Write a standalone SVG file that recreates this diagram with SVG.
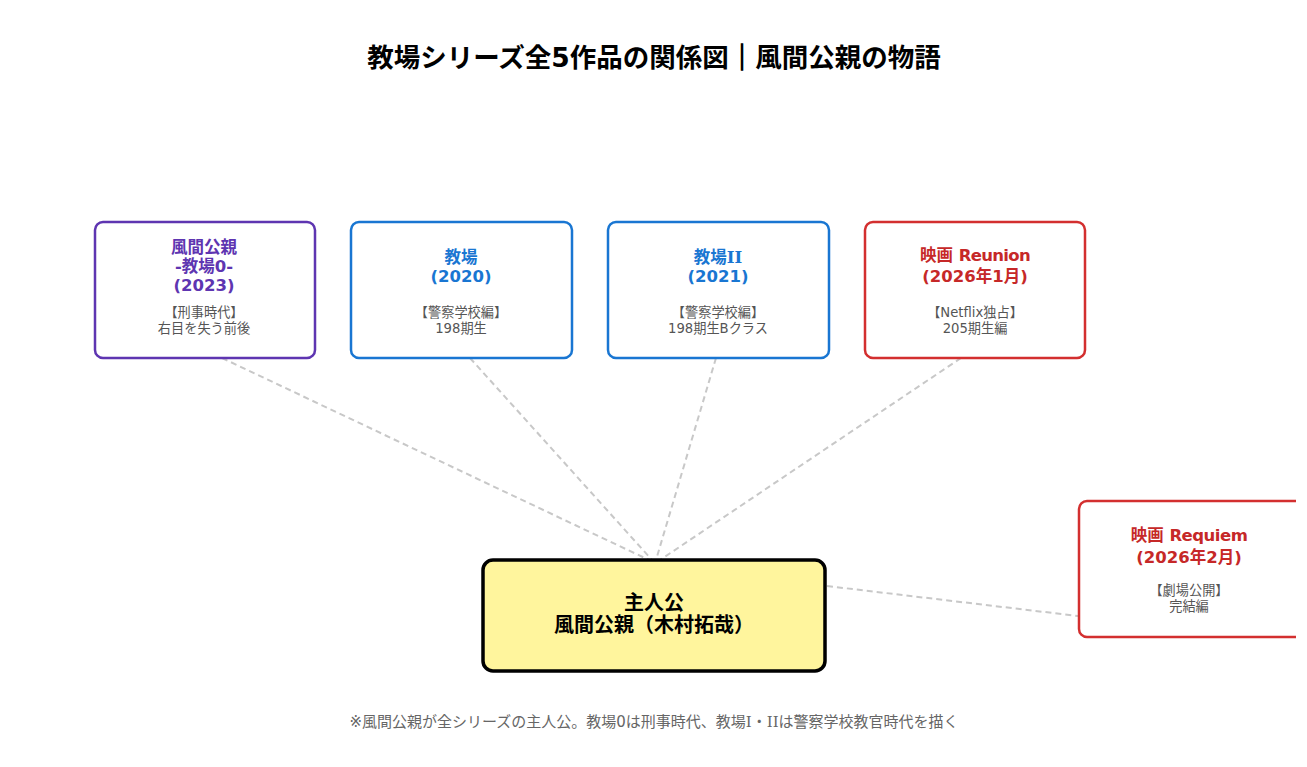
<svg xmlns="http://www.w3.org/2000/svg" width="1307" height="767" viewBox="0 0 1307 767">
<defs><clipPath id="edge"><rect x="0" y="0" width="1296" height="767"/></clipPath></defs>
<style>
text{font-family:"DejaVu Sans","Noto Sans CJK JP",sans-serif;text-anchor:middle}
.t{font-size:16.5px;font-weight:700}
.s{font-size:13.2px;fill:#555}
.box{fill:#fff;stroke-width:2.5}
.p{stroke:#5E35B1}.pt{fill:#5E35B1}
.b{stroke:#1976D2}.bt{fill:#1976D2}
.r{stroke:#D32F2F}.rt{fill:#C62828}
.c{fill:none;stroke:#C8C8C8;stroke-width:2;stroke-dasharray:6 4}
.i{font-family:"DejaVu Serif",serif}
.m{font-size:20px;font-weight:700}
</style>
<rect width="1307" height="767" fill="#fff"/>
<text id="title" x="654" y="67" font-size="26.5" font-weight="700">教場シリーズ全5作品の関係図<tspan stroke="#000" stroke-width="1.2">｜</tspan>風間公親の物語</text>
<g id="connectors">
<line class="c" x1="222" y1="358" x2="649" y2="560"/>
<line class="c" x1="470" y1="358" x2="652" y2="560"/>
<line class="c" x1="716" y1="358" x2="656" y2="560"/>
<line class="c" x1="961" y1="358" x2="660" y2="560"/>
<line class="c" x1="827" y1="586" x2="1078" y2="616"/>
</g>
<g id="node-zero">
<rect class="box p" x="95" y="222" width="220" height="136" rx="8"/>
<text class="t pt" x="204" y="253">風間公親</text>
<text class="t pt" x="204" y="272">-教場0-</text>
<text class="t pt" x="204" y="291">(2023)</text>
<text class="s" x="204" y="317">【刑事時代】</text>
<text class="s" x="204" y="333">右目を失う前後</text>
</g>
<g id="node-kyojo1">
<rect class="box b" x="351" y="222" width="221" height="136" rx="8"/>
<text class="t bt" x="461" y="263">教場</text>
<text class="t bt" x="461" y="282">(2020)</text>
<text class="s" x="461" y="317">【警察学校編】</text>
<text class="s" x="461" y="333">198期生</text>
</g>
<g id="node-kyojo2">
<rect class="box b" x="608" y="222" width="221" height="136" rx="8"/>
<text class="t bt" x="718" y="263">教場<tspan class="i">II</tspan></text>
<text class="t bt" x="718" y="282">(2021)</text>
<text class="s" x="718" y="317">【警察学校編】</text>
<text class="s" x="718" y="333">198期生Bクラス</text>
</g>
<g id="node-reunion">
<rect class="box r" x="865" y="222" width="220" height="136" rx="8"/>
<text class="t rt" x="975" y="261">映画 <tspan letter-spacing="-.7">Reunion</tspan></text>
<text class="t rt" x="975" y="282">(2026年1月)</text>
<text class="s" x="975" y="317">【Netflix独占】</text>
<text class="s" x="975" y="333">205期生編</text>
</g>
<g id="node-requiem">
<rect class="box r" x="1079" y="501" width="226" height="136" rx="8" clip-path="url(#edge)"/>
<text class="t rt" x="1189" y="541">映画 <tspan letter-spacing="-.5">Requiem</tspan></text>
<text class="t rt" x="1189" y="563">(2026年2月)</text>
<text class="s" x="1189" y="595">【劇場公開】</text>
<text class="s" x="1189" y="611">完結編</text>
</g>
<g id="node-main">
<rect x="483" y="560" width="342" height="111" rx="10" fill="#FFF59D" stroke="#000" stroke-width="3.5"/>
<text class="m" x="654" y="610">主人公</text>
<text class="m" x="654" y="632">風間公親（木村拓哉）</text>
</g>
<text id="note" x="654" y="727" font-size="15" fill="#666">※風間公親が全シリーズの主人公。教場0は刑事時代、教場<tspan class="i">I</tspan>・<tspan class="i">II</tspan>は警察学校教官時代を描く</text>
</svg>
